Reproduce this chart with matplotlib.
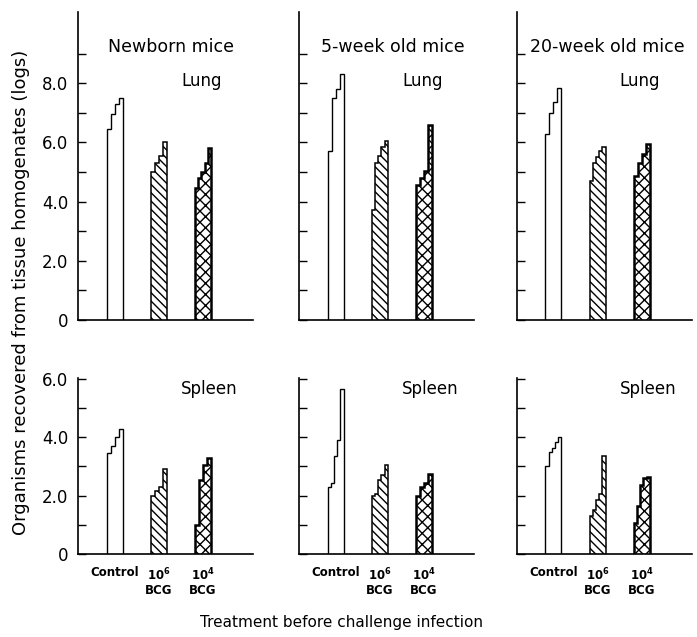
import numpy as np
import matplotlib.pyplot as plt

# panel titles and treatment groups
ages = ["Newborn mice", "5-week old mice", "20-week old mice"]
organs = ["Lung", "Spleen"]
treatments = ["Control", "$\\mathbf{10^6}$\nBCG", "$\\mathbf{10^4}$\nBCG"]

# log counts per mouse (sorted), one list per age group
lung_control = [[6.45, 6.95, 7.3, 7.5], [5.7, 7.5, 7.8, 8.3], [6.3, 7.0, 7.35, 7.85]]
lung_bcg6 = [[5.0, 5.3, 5.55, 6.0], [3.7, 5.3, 5.55, 5.85, 6.05], [4.7, 5.3, 5.5, 5.7, 5.85]]
lung_bcg4 = [[4.45, 4.8, 5.0, 5.3, 5.8], [4.55, 4.8, 5.05, 6.6], [4.85, 5.3, 5.6, 5.95]]

spleen_control = [[3.47, 3.7, 4.0, 4.28], [2.3, 2.45, 3.35, 3.9, 5.65], [3.0, 3.5, 3.65, 3.85, 4.0]]
spleen_bcg6 = [[2.0, 2.15, 2.3, 2.9], [2.0, 2.05, 2.55, 2.7, 3.05], [1.3, 1.5, 1.85, 2.05, 3.35]]
spleen_bcg4 = [[1.0, 2.55, 3.05, 3.3], [2.0, 2.3, 2.45, 2.75], [1.05, 1.65, 2.35, 2.6, 2.65]]

lung_ticks = [0, 2, 4, 6, 8]
lung_ticklabels = ["0", "2.0", "4.0", "6.0", "8.0"]
spleen_ticks = [0, 2, 4, 6]
spleen_ticklabels = ["0", "2.0", "4.0", "6.0"]

organ_data = [
    [lung_control, lung_bcg6, lung_bcg4],
    [spleen_control, spleen_bcg6, spleen_bcg4],
]

hatches = [None, "\\\\\\\\", "xxx"]
edge_widths = [1.0, 1.1, 1.8]

W, H = 697, 637
fig = plt.figure(figsize=(W / 100, H / 100), dpi=100)

lefts = [78, 299, 516.7]
row_bottom = [320, 554]       # pixel row of the zero line
row_ylim = [10.4, 6.02]
px_per_unit = [29.6, 29.17]

for r in range(2):
    for c in range(3):
        h_px = row_ylim[r] * px_per_unit[r]
        ax = fig.add_axes([lefts[c] / W, (H - row_bottom[r]) / H, 175 / W, h_px / H])
        ax.set_xlim(0.17, 4.13)
        ax.set_ylim(0, row_ylim[r])

        for g in range(3):
            vals = organ_data[r][g][c]
            pos = g + 1
            edges = np.linspace(pos - 0.18, pos + 0.18, len(vals) + 1)
            ax.stairs(vals, edges, baseline=0, fill=True, facecolor="white",
                      edgecolor="black", hatch=hatches[g], linewidth=edge_widths[g])

        for s in ["top", "right"]:
            ax.spines[s].set_visible(False)
        for s in ["left", "bottom"]:
            ax.spines[s].set_linewidth(1.2)
        ax.set_xticks([])

        if r == 0:
            ax.set_yticks(lung_ticks, lung_ticklabels if c == 0 else [])
            ax.set_yticks([1, 3, 5, 7, 9], minor=True)
        else:
            ax.set_yticks(spleen_ticks, spleen_ticklabels if c == 0 else [])
            ax.set_yticks([1, 3, 5], minor=True)
        ax.tick_params(axis="y", which="both", direction="in", length=6, width=1,
                       pad=7, labelsize=12)

        if r == 0:
            title_x = [0.85, 0.66, 0.47][c]
            ax.text(title_x, 9.22, ages[c], fontsize=12.5, ha="left", va="center")
            ax.text(2.5, 8.07, organs[0], fontsize=12, ha="left", va="center")
        else:
            ax.text(2.5, 5.66, organs[1], fontsize=12, ha="left", va="center")
            for g in range(3):
                ax.annotate(treatments[g], xy=(g + 1, 0), xycoords=("data", "axes fraction"),
                            xytext=(0, -9), textcoords="offset points",
                            ha="center", va="top", fontsize=8.5, fontweight="bold",
                            multialignment="center", linespacing=1.1)

fig.text(342 / W, 1 - 622 / H, "Treatment before challenge infection",
         ha="center", va="center", fontsize=11)
fig.text(21 / W, 1 - 292.5 / H, "Organisms recovered from tissue homogenates (logs)",
         rotation=90, ha="center", va="center", fontsize=13)

plt.savefig("out.png", dpi=100)
